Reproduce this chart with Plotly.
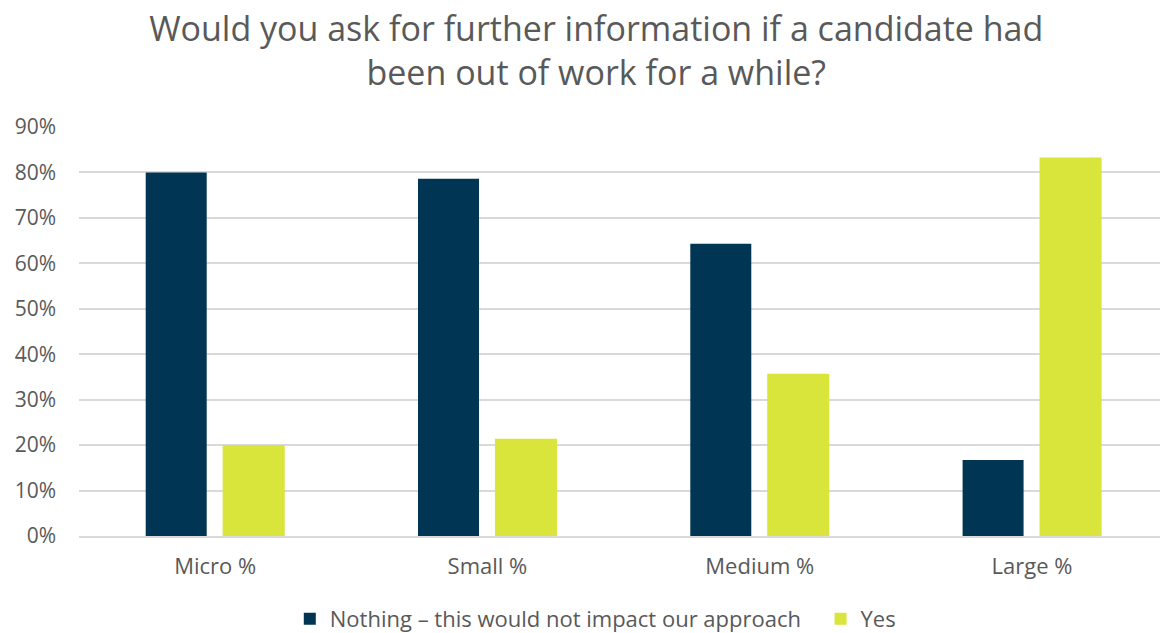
import plotly.graph_objects as go

categories = ["Micro %", "Small %", "Medium %", "Large %"]
nothing_vals = [0.800, 0.786, 0.643, 0.167]
yes_vals = [0.200, 0.214, 0.357, 0.833]
series_names = ["Nothing – this would not impact our approach", "Yes"]
title_text = "Would you ask for further information if a candidate had<br>been out of work for a while?"

FONT = "Open Sans"
GRAY = "#595959"

fig = go.Figure()
fig.add_trace(go.Bar(x=categories, y=nothing_vals, name=series_names[0],
                     offset=-0.255, width=0.224, legend="legend",
                     marker=dict(color="#003654", line=dict(width=0))))
fig.add_trace(go.Bar(x=categories, y=yes_vals, name=series_names[1],
                     offset=0.0275, width=0.228, legend="legend2",
                     marker=dict(color="#d9e53b", line=dict(width=0))))

legend_common = dict(orientation="h", y=-0.203, yanchor="middle", xanchor="left",
                     font=dict(family=FONT, size=22, color=GRAY), bgcolor="rgba(0,0,0,0)")

fig.update_layout(
    width=1160, height=633,
    margin=dict(l=79, r=0, t=127, b=97, autoexpand=False),
    paper_bgcolor="white", plot_bgcolor="white",
    barmode="overlay",
    title=dict(text=title_text, x=0.514, xref="container", xanchor="center",
               y=0.935, yref="container", yanchor="middle",
               font=dict(family=FONT, size=34, color=GRAY)),
    font=dict(family=FONT, color=GRAY),
    legend=dict(x=0.195, **legend_common),
    legend2=dict(x=0.686, **legend_common),
    showlegend=True,
)
fig.update_xaxes(range=[-0.5, 3.47], showgrid=False, showline=True, linecolor="#d9d9d9",
                 linewidth=1.5, ticks="", tickfont=dict(size=22, color=GRAY),
                 ticklabelstandoff=10, automargin=False)
fig.update_yaxes(range=[0, 0.9], dtick=0.1, tickformat=".0%", showgrid=True,
                 gridcolor="#d9d9d9", gridwidth=1.5, zeroline=False, ticks="",
                 tickfont=dict(size=21, color=GRAY), ticklabelstandoff=22, automargin=False)

fig.write_html("out.html")
